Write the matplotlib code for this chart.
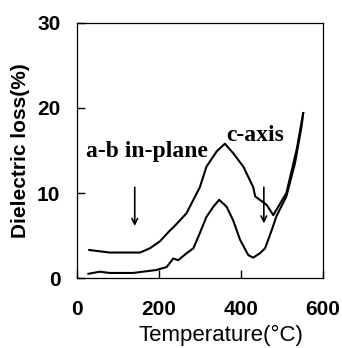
import matplotlib
matplotlib.use("Agg")
import matplotlib.pyplot as plt

# upper curve (a-b in-plane)
temp_ab = [30, 80, 154, 178, 202, 227, 236, 267, 300, 316, 341, 361, 381, 406, 430, 435, 463, 479, 511, 536, 552]
loss_ab = [3.3, 3.0, 3.0, 3.5, 4.3, 5.6, 6.0, 7.6, 10.7, 13.1, 14.9, 15.8, 14.7, 13.1, 10.7, 9.6, 8.6, 7.4, 10.0, 15.1, 19.4]

# lower curve (c-axis)
temp_c = [28, 56, 80, 137, 194, 219, 235, 247, 267, 284, 300, 316, 333, 347, 365, 381, 398, 418, 430, 446, 459, 475, 487, 511, 532, 548, 552]
loss_c = [0.5, 0.75, 0.6, 0.6, 0.95, 1.3, 2.3, 2.1, 2.9, 3.5, 5.3, 7.2, 8.4, 9.2, 8.4, 6.8, 4.5, 2.7, 2.4, 2.9, 3.5, 5.6, 7.3, 9.6, 13.5, 17.8, 19.4]

xticks = [0, 200, 400, 600]
yticks = [0, 10, 20, 30]

fig = plt.figure(figsize=(3.42, 3.48), dpi=100)
ax = fig.add_axes([0.225, 0.201, 0.719, 0.733])

ax.plot(temp_ab, loss_ab, color='black', lw=1.5)
ax.plot(temp_c, loss_c, color='black', lw=1.5)

ax.set_xlim(0, 600)
ax.set_ylim(0, 30)
ax.set_xticks(xticks)
ax.set_yticks(yticks)
ax.tick_params(direction='in', length=6, width=1, labelsize=15)
ax.tick_params(axis='x', pad=16)
ax.tick_params(axis='y', pad=12)
for lab in ax.get_xticklabels() + ax.get_yticklabels():
    lab.set_fontfamily('Liberation Sans')
    lab.set_fontweight('bold')
for s in ax.spines.values():
    s.set_linewidth(0.9)

ax.set_xlabel('Temperature(\u00b0C)', fontsize=16, family='Liberation Sans')
ax.xaxis.set_label_coords(0.585, -0.183)
ax.set_ylabel('Dielectric loss(%)', fontsize=15, family='Liberation Sans', fontweight='bold')
ax.yaxis.set_label_coords(-0.191, 0.5)

ax.text(22, 14.2, 'a-b in-plane', family='Liberation Serif', fontweight='bold', fontsize=17)
ax.text(365, 16.1, 'c-axis', family='Liberation Serif', fontweight='bold', fontsize=17)

ax.annotate('', xy=(141, 5.8), xytext=(141, 11.0),
            arrowprops=dict(arrowstyle='->', color='black', lw=1.2))
ax.annotate('', xy=(456, 6.1), xytext=(456, 11.0),
            arrowprops=dict(arrowstyle='->', color='black', lw=1.2))

fig.savefig('out.png', dpi=100)
